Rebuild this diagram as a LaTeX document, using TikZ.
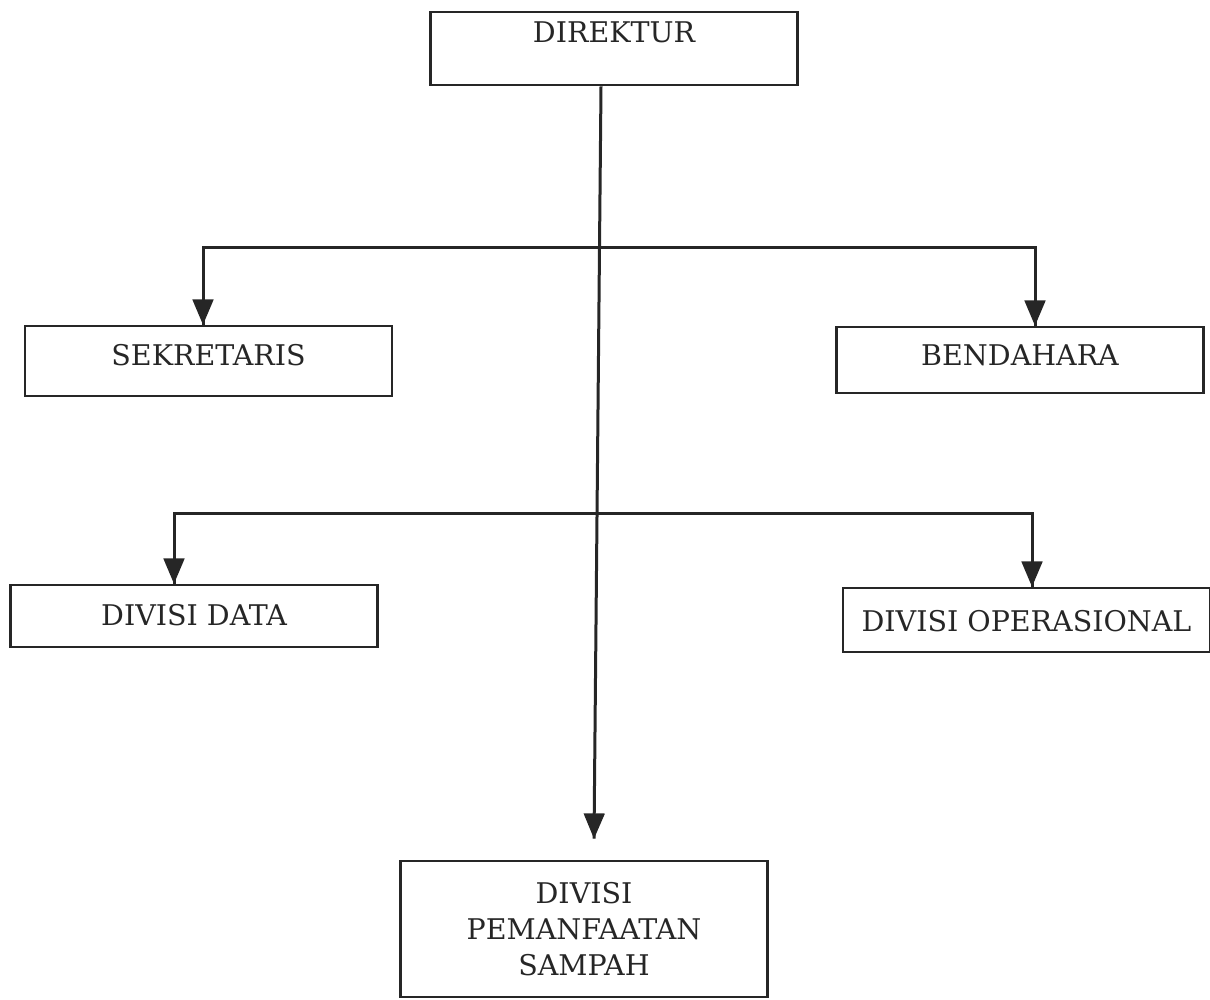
\documentclass[tikz,border=0pt]{standalone}
\usepackage{fontspec}
\usetikzlibrary{arrows}
\usetikzlibrary{decorations.markings}
\newfontfamily\jabatanfont{DejaVu Serif}
\tikzset{panah/.style = {decoration={markings,
                                     mark=at position 1 with {\arrow[scale=1.5]{triangle 45}}},
                         postaction={decorate}}}
\tikzset{kotak/.style = {draw, line width=2.6pt, inner sep=0pt, minimum width=367pt,
                         font=\jabatanfont\fontsize{28.5}{36}\selectfont, align=center}}

\begin{document}
\begin{tikzpicture}[x=1pt, y=-1pt, line width=3pt, color=black!85]
    \useasboundingbox (0, 0) rectangle (1210, 999);

    \node [kotak, text height=30pt, text depth=43pt] (direktur) at (614, 48.5) {DIREKTUR};
    \node [kotak, text height=39pt, text depth=31pt] (sekretaris) at (208.5, 361) {SEKRETARIS};
    \node [kotak, text height=38pt, text depth=28pt] (bendahara) at (1020, 360) {BENDAHARA};
    \node [kotak, text height=40pt, text depth=22pt] (data) at (194, 616) {DIVISI DATA};
    \node [kotak, text height=43pt, text depth=21pt] (operasional) at (1026.5, 620) {DIVISI OPERASIONAL};
    \node [kotak, minimum height=136pt] (pemanfaatan) at (584, 929) {DIVISI\\PEMANFAATAN\\SAMPAH};

    % garis utama
    \coordinate (pangkal) at ([xshift=-13pt]direktur.south);
    \coordinate (ujung) at ([xshift=10pt, yshift=21pt]pemanfaatan.north);
    \coordinate (simpul1) at (600, 247);
    \coordinate (simpul2) at (597, 513);
    \draw [panah] (pangkal) -- (ujung);

    % cabang
    \draw [panah] (simpul1) -| ([xshift=-5.5pt]sekretaris.north);
    \draw [panah] (simpul1) -| ([xshift=15pt]bendahara.north);
    \draw [panah] (simpul2) -| ([xshift=-20pt]data.north);
    \draw [panah] (simpul2) -| ([xshift=5.5pt]operasional.north);
\end{tikzpicture}
\end{document}
